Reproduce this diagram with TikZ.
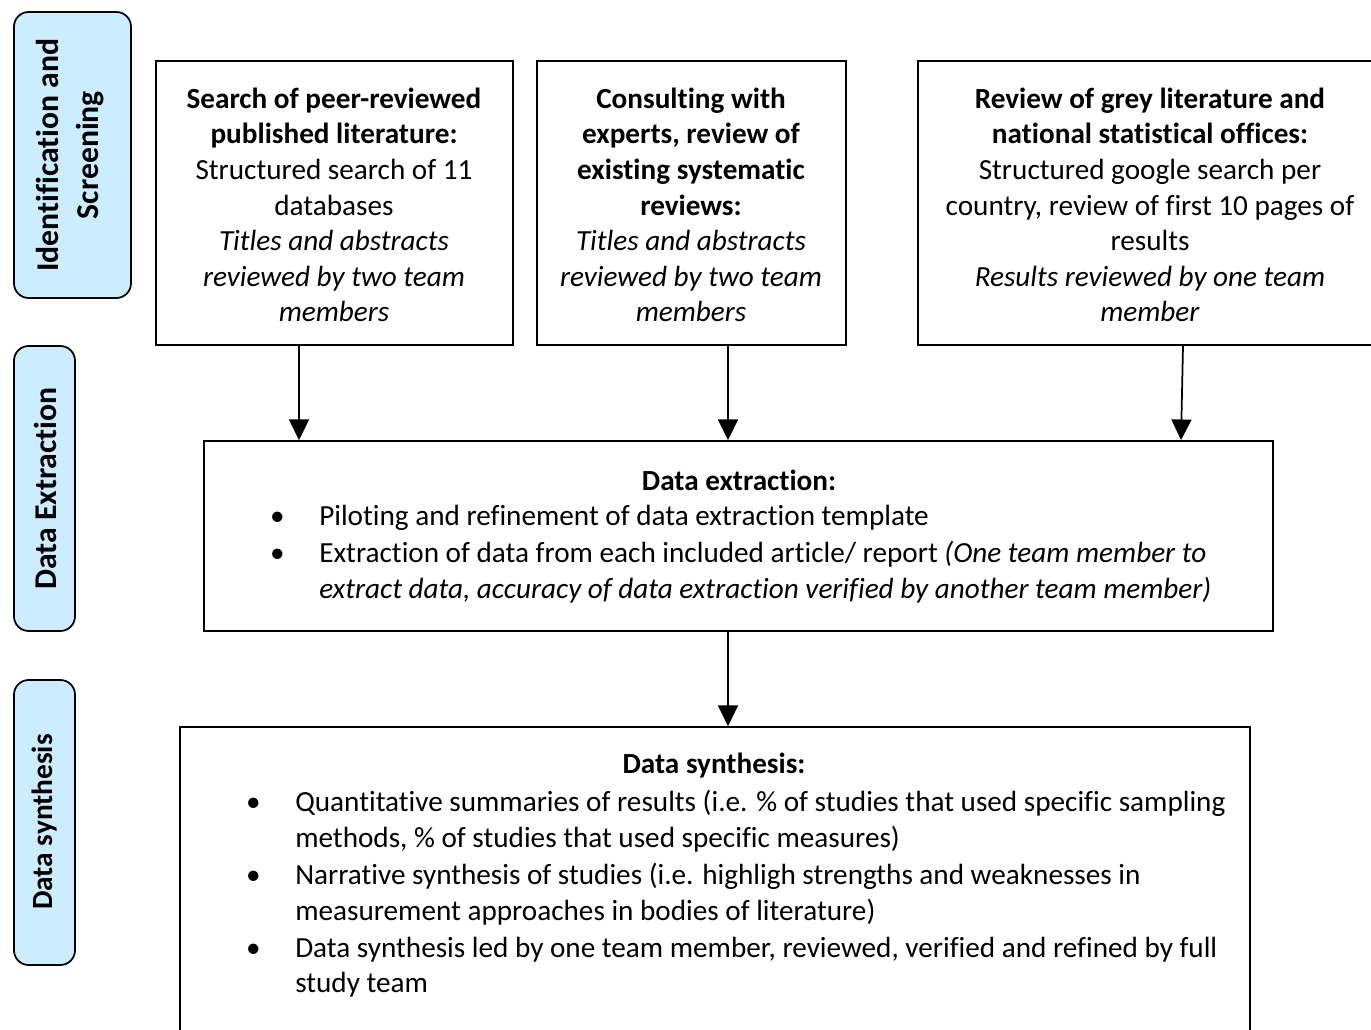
\documentclass[tikz,border=0pt]{standalone}
\usepackage{fontspec}
\setmainfont{Carlito}[RawFeature={-liga;-clig}]
\usetikzlibrary{arrows.meta}
\definecolor{sidebg}{RGB}{204,236,255}
\begin{document}
\begin{tikzpicture}[x=0.75pt,y=-0.75pt,
  font=\fontsize{21.9}{26.7}\selectfont,
  box/.style={draw=black,line width=1.3pt,fill=white,inner sep=0pt},
  side/.style={draw=black,line width=1.3pt,fill=sidebg,rounded corners=11pt,inner sep=0pt},
  sidetxt/.style={rotate=90,font=\fontsize{23.8}{30}\selectfont\bfseries,align=center},
  txt/.style={align=center,inner sep=0pt},
  ltxt/.style={align=left,inner sep=0pt,anchor=west},
  arr/.style={line width=1.3pt,-{Triangle[length=15.5pt,width=15pt]}}]
\useasboundingbox (0,0) rectangle (1371,1030);
\begin{scope}
\clip (0,0) rectangle (1371,1030);
% side labels
\node[side,minimum width=117*0.75pt,minimum height=286*0.75pt] (s1) at (72.5,155) {};
\node[sidetxt] (s1t) at (70,155) {Identification and\\Screening};
\node[side,minimum width=61*0.75pt,minimum height=285*0.75pt] (s2) at (44.5,488.5) {};
\node[sidetxt] (s2t) at (45,488.5) {Data Extraction};
\node[side,minimum width=61*0.75pt,minimum height=285*0.75pt] (s3) at (44.5,822.5) {};
\node[sidetxt,font=\fontsize{22}{30}\selectfont\bfseries] (s3t) at (45,822) {Data synthesis};
% top boxes
\node[box,minimum width=357*0.75pt,minimum height=284*0.75pt] (A) at (334.5,203) {};
\node[txt] (At) at (334,205) {\textbf{Search of peer-reviewed}\\\textbf{published literature:}\\Structured search of 11\\databases\\\textit{Titles and abstracts}\\\textit{reviewed by two team}\\\textit{members}};
\node[box,minimum width=309*0.75pt,minimum height=284*0.75pt] (B) at (691.5,203) {};
\node[txt] (Bt) at (691,205) {\textbf{Consulting with}\\\textbf{experts, review of}\\\textbf{existing systematic}\\\textbf{reviews:}\\\textit{Titles and abstracts}\\\textit{reviewed by two team}\\\textit{members}};
\node[box,minimum width=460*0.75pt,minimum height=284*0.75pt] (C) at (1148,203) {};
\node[txt] (Ct) at (1150,205) {\textbf{Review of grey literature and}\\\textbf{national statistical offices:}\\Structured google search per\\country, review of first 10 pages of\\results\\\textit{Results reviewed by one team}\\\textit{member}};
% extraction
\node[box,minimum width=1069*0.75pt,minimum height=190*0.75pt] (E) at (738.5,536) {};
\node[txt] (Et) at (739,480) {\textbf{Data extraction:}};
\node[ltxt] (El) at (319,554) {\llap{\textbullet\hspace{26pt}}Piloting and refinement of data extraction template\\[1.5pt]
\llap{\textbullet\hspace{26pt}}Extraction of data from each included article/ report \textit{(One team member to}\\
\textit{extract data, accuracy of data extraction verified by another team member)}};
% synthesis
\node[box,minimum width=1070*0.75pt,minimum height=400*0.75pt] (S) at (715,927) {};
\node[txt] (St) at (714,766) {\textbf{Data synthesis:}};
\node[ltxt] (Sl) at (295,894) {\llap{\textbullet\hspace{26pt}}Quantitative summaries of results (i.e. \% of studies that used specific sampling\\
methods, \% of studies that used specific measures)\\[1.2pt]
\llap{\textbullet\hspace{26pt}}Narrative synthesis of studies (i.e. highligh strengths and weaknesses in\\
measurement approaches in bodies of literature)\\[1.2pt]
\llap{\textbullet\hspace{26pt}}Data synthesis led by one team member, reviewed, verified and refined by full\\
study team};
% arrows
\draw[arr] (299,0 |- A.south) -- (299,0 |- E.north);
\draw[arr] (728,0 |- B.south) -- (728,0 |- E.north);
\draw[arr] (1183,0 |- C.south) -- (1181,0 |- E.north);
\draw[arr] (728,0 |- E.south) -- (728,0 |- S.north);
\end{scope}
\end{tikzpicture}
\end{document}
